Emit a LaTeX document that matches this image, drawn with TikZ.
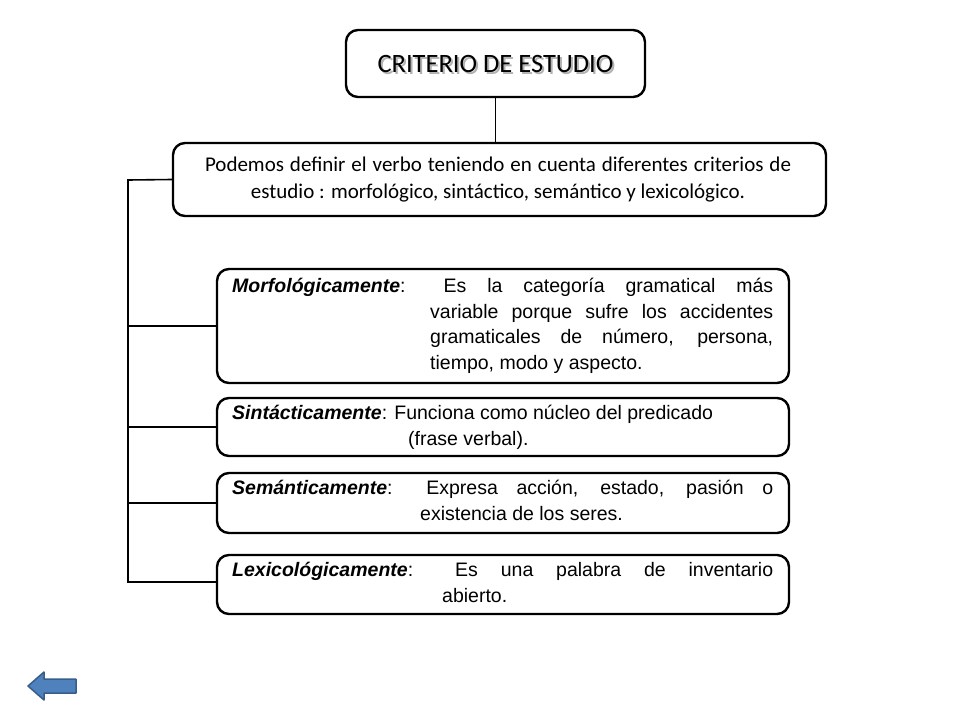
\documentclass[tikz,border=0pt]{standalone}
\usepackage{fontspec}
\setmainfont{Liberation Sans}
\newfontfamily\calfont{Carlito}
\begin{document}
\begin{tikzpicture}[x=1pt,y=-1pt,
  box/.style={draw=black,line width=2.4pt,rounded corners=12pt,fill=white},
  ln/.style={line width=1.6pt},
  bt/.style={anchor=north west,inner sep=0pt,align=left,font=\fontsize{19.5}{25.5}\selectfont}]
\useasboundingbox (0,0) rectangle (960,720);
% title
\draw[box] (346,30) rectangle (645,97);
\node[font=\calfont\fontsize{26.5}{30}\selectfont,text=gray!60] at (497.5,65.5) {CRITERIO DE ESTUDIO};
\node (t) [font=\calfont\fontsize{26.5}{30}\selectfont,minimum width=299pt,minimum height=67pt] at (495.5,63.5) {CRITERIO DE ESTUDIO};
% definition
\node (d) [box,minimum width=653pt,minimum height=73pt] at (499.5,179.5) {};
\node[font=\calfont\fontsize{21}{27}\selectfont,align=center] at (498,180) {\makebox[586pt][s]{Podemos definir el verbo teniendo en cuenta diferentes criterios de}\\ estudio : morfológico, sintáctico, semántico y lexicológico.};
\draw[ln] (t.south) -- (t.south |- d.north);
% boxes
\node (m) [box,minimum width=572pt,minimum height=114pt] at (503,326) {};
\node (s) [box,minimum width=572pt,minimum height=58pt] at (503,427) {};
\node (e) [box,minimum width=572pt,minimum height=60pt] at (503,503) {};
\node (l) [box,minimum width=572pt,minimum height=59pt] at (503,584.5) {};
\node[bt] at (232,278) {\parbox{541pt}{\hangindent=198pt\hangafter=1 \textbf{\textit{Morfológicamente}}: Es la categoría gramatical más\break variable porque sufre los accidentes\break gramaticales de número, persona,\break tiempo, modo y aspecto.\hfill\hspace*{0pt}}};
\node[bt] at (232,405) {\parbox{541pt}{\raggedright\hangindent=176pt\hangafter=1 \textbf{\textit{Sintácticamente}}: Funciona como núcleo del predicado\break (frase verbal).}};
\node[bt] at (232,480) {\parbox{541pt}{\hangindent=188pt\hangafter=1 \textbf{\textit{Semánticamente}}: Expresa acción, estado, pasión o\break existencia de los seres.\hfill\hspace*{0pt}}};
\node[bt] at (232,562) {\parbox{541pt}{\hangindent=210pt\hangafter=1 \textbf{\textit{Lexicológicamente}}: Es una palabra de inventario\break abierto.\hfill\hspace*{0pt}}};
% bracket
\coordinate (top) at (128,180);
\coordinate (bot) at (128,582);
\draw[ln] (d.west) -- (top) -- (bot) -- (bot -| l.west);
\draw[ln] (128,326) -- (m.west);
\draw[ln] (128,427) -- (s.west);
\draw[ln] (128,503) -- (e.west);
% back arrow
\draw[fill={rgb,255:red,79;green,129;blue,189},draw={rgb,255:red,56;green,93;blue,138},line width=1.5pt,line join=round]
 (28,686) -- (44,672) -- (44,679) -- (76,679) -- (76,693) -- (44,693) -- (44,700) -- cycle;
\end{tikzpicture}
\end{document}
